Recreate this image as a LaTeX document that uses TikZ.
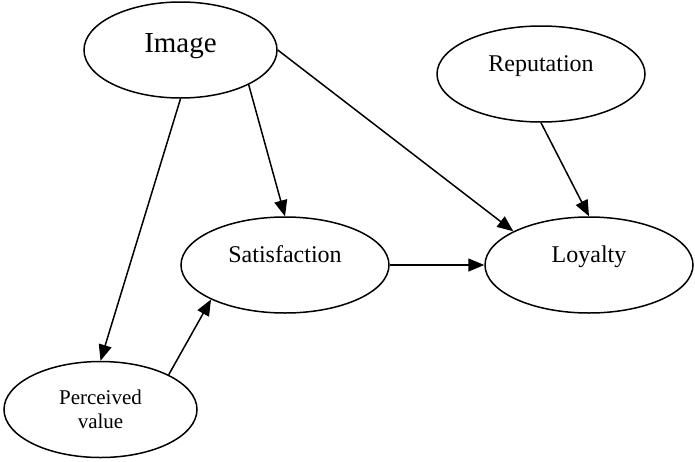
\documentclass[tikz,border=0pt]{standalone}
\usepackage{fontspec}
\setmainfont{Liberation Serif}
\usetikzlibrary{shapes.geometric, arrows.meta}
\tikzstyle{factor} = [ellipse, draw=black, line width=1.5pt, minimum width=208pt, minimum height=96pt, inner sep=0pt, text centered, font=\fontsize{24}{28}\selectfont]
\tikzstyle{oneline} = [text height=16pt, text depth=22pt]
\tikzstyle{arrow} = [line width=1.5pt, -{Triangle[length=16pt, width=13pt]}]

\begin{document}
\begin{tikzpicture}[x=1pt, y=-1pt]
   \useasboundingbox (0,0) rectangle (695,461);
   \node (image) [factor, minimum width=193pt, font=\fontsize{29}{34}\selectfont, text height=20pt, text depth=16pt] at (180.5,50) {Image};
   \node (reputation) [factor, oneline] at (541,74) {Reputation};
   \node (satisfaction) [factor, oneline] at (285,265) {Satisfaction};
   \node (loyalty) [factor, oneline] at (589,265) {Loyalty};
   \node (perceived) [factor, minimum width=193pt, align=center, font=\fontsize{21}{24.5}\selectfont] at (100.5,409.5) {Perceived\\value};
   \draw [arrow] (image.south) -- (perceived.north);
   \draw [arrow] (image.-27) -- (satisfaction.north);
   \draw [arrow] (image.east) -- (loyalty.156);
   \draw [arrow] (reputation.south) -- (loyalty.north);
   \draw [arrow] (satisfaction.east) -- (loyalty.west);
   \draw [arrow] (perceived.27) -- (satisfaction.205);
\end{tikzpicture}
\end{document}
